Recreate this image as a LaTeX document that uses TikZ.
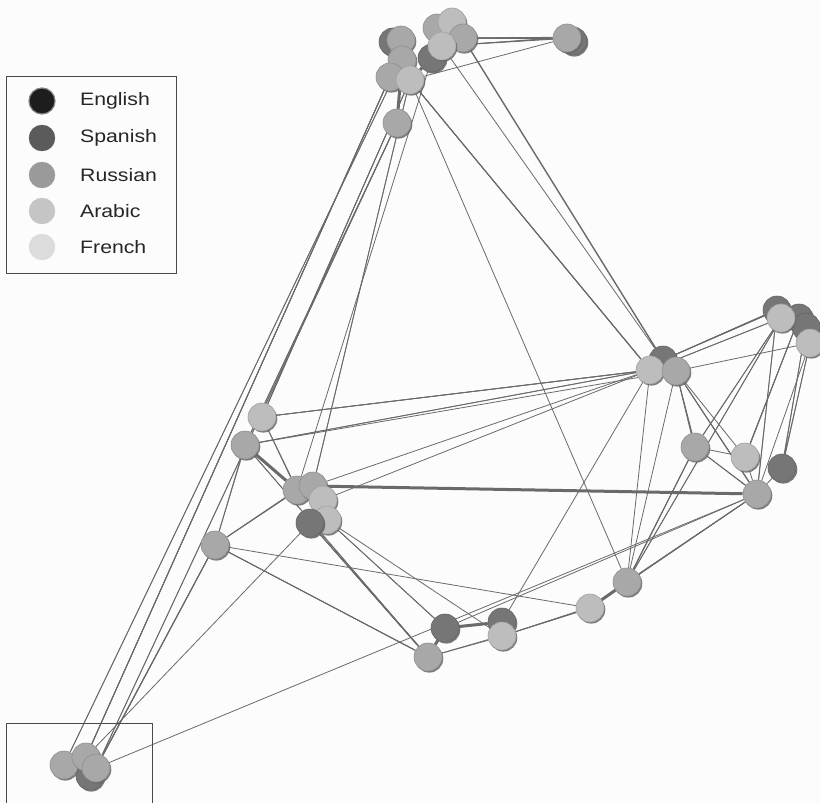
\documentclass[tikz,border=0pt]{standalone}
\usepackage{fontspec}
\setmainfont{Liberation Sans}
\usetikzlibrary{shadows}
\definecolor{cE}{HTML}{1D1D1D}
\definecolor{cS}{HTML}{5B5B5B}
\definecolor{cR}{HTML}{9A9A9A}
\definecolor{cA}{HTML}{C5C5C5}
\definecolor{cF}{HTML}{DCDCDC}
\definecolor{gL}{HTML}{BDBDBD}
\definecolor{gM}{HTML}{A8A8A8}
\definecolor{gD}{HTML}{767676}
\definecolor{edgec}{HTML}{6A6A6A}
\definecolor{framec}{HTML}{4A4A4A}
\pgfdeclarelayer{bg}
\pgfdeclarelayer{edgelayer}
\pgfsetlayers{bg,edgelayer,main}
\newcommand\bundle[4]{\foreach \o in {#3}{\draw[edge] ([#4=\o]#1) -- ([#4=\o]#2);}}
\newcommand\legtxt[1]{\scalebox{1.18}[1]{#1}}
\tikzset{
  gnode/.style={circle, inner sep=0, minimum size=28, fill=#1, draw=#1!85!black, line width=0.6,
    drop shadow={shadow xshift=1.3pt, shadow yshift=-1.6pt, fill=black!60, opacity=0.85}},
  lnode/.style={circle, inner sep=0, minimum size=26, fill=#1, draw=#1},
  ltext/.style={anchor=west, inner sep=0, font=\fontsize{18}{21}\selectfont, text=black!85},
  edge/.style={draw=edgec, line width=0.8},
  thickedge/.style={draw=edgec, line width=3},
  frame/.style={draw=framec, line width=1}
}
\begin{document}
\begin{tikzpicture}[x=1pt,y=-1pt]
\begin{pgfonlayer}{bg}
\fill[white!99!black] (0,0) rectangle (820,803);
\end{pgfonlayer}
\useasboundingbox (0,0) rectangle (820,803);

% ---------- graph nodes ----------
% top cluster
\node[gnode=gD] (t9) at (432,58) {};
\node[gnode=gD] (t0) at (393,42) {};
\node[gnode=gM] (t1) at (401,40) {};
\node[gnode=gM] (t2) at (437,28) {};
\node[gnode=gL] (t3) at (452,22) {};
\node[gnode=gM] (t4) at (463,38) {};
\node[gnode=gL] (t11) at (442,46) {};
\node[gnode=gM] (t12) at (402,60) {};
\node[gnode=gM] (t6) at (390,77) {};
\node[gnode=gL] (t7) at (410,80) {};
\node[gnode=gD] (trd) at (573,41) {};
\node[gnode=gM] (tr) at (567,38) {};
\node[gnode=gM] (t10) at (397,123) {};
% right top cluster
\node[gnode=gD] (r1) at (777,310) {};
\node[gnode=gD] (r2) at (799,318) {};
\node[gnode=gD] (r3) at (806,327) {};
\node[gnode=gL] (r4) at (781,318) {};
\node[gnode=gL] (r5) at (810,343) {};
% middle right
\node[gnode=gD] (m1) at (663,360) {};
\node[gnode=gL] (m2) at (650,370) {};
\node[gnode=gM] (m3) at (676,371) {};
\node[gnode=gM] (q1) at (695,447) {};
\node[gnode=gL] (q2) at (745,457) {};
\node[gnode=gD] (q3) at (782,468) {};
\node[gnode=gM] (q4) at (757,494) {};
% left
\node[gnode=gL] (l1) at (262,417) {};
\node[gnode=gM] (l2) at (245,445) {};
\node[gnode=gM] (c1) at (297,490) {};
\node[gnode=gM] (c2) at (313,486) {};
\node[gnode=gL] (c3) at (323,500) {};
\node[gnode=gL] (c6) at (327,520) {};
\node[gnode=gD] (c5) at (310,523) {};
\node[gnode=gM] (l3) at (215,545) {};
% bottom
\node[gnode=gD] (b1) at (445,628) {};
\node[gnode=gM] (b2) at (428,657) {};
\node[gnode=gD] (b3) at (502,622) {};
\node[gnode=gL] (b4) at (502,636) {};
\node[gnode=gL] (b5) at (590,608) {};
\node[gnode=gM] (b6) at (627,582) {};
% bottom-left cluster
\node[gnode=gD] (z4) at (90,776) {};
\node[gnode=gM] (z1) at (64,765) {};
\node[gnode=gM] (z2) at (86,757) {};
\node[gnode=gM] (z3) at (96,768) {};

% ---------- connectors ----------
\begin{pgfonlayer}{edgelayer}
% top cluster internal and to right satellite
\bundle{t4}{tr}{-7,-4,-1,2,5}{yshift}
\bundle{t11}{tr}{-3,2,6}{yshift}
\draw[edge] (t7) -- (tr);
\draw[thickedge] (t9) -- (t7);
\draw[thickedge] (t12) -- (t10);
% top to bottom-left
\bundle{t6}{z2}{-7,-4,-1,2}{xshift}
\bundle{t10}{z3}{-2,2}{xshift}
\bundle{t12}{z1}{-2,2}{xshift}
% top to left
\bundle{t7}{l1}{-4,-1,2}{xshift}
\bundle{t10}{l2}{-2,2}{xshift}
\bundle{t7}{c2}{-2,2}{xshift}
\draw[edge] (t9) -- (c1);
% top to middle right
\bundle{t7}{m2}{-6,-3,0,3}{yshift}
\draw[edge] (t11) -- (m1);
\draw[edge, line width=1.4] (t4) -- (m1);
\draw[edge] (t7) -- (b6);
% left to middle right
\bundle{l1}{m2}{-4,-1,2}{yshift}
\bundle{l2}{m2}{-2,2}{yshift}
\draw[edge] (l2) -- (m3);
\draw[edge] (c2) -- (m2);
\draw[edge] (c3) -- (r4);
\draw[thickedge] (c2) -- (q4);
% middle right cluster links
\bundle{m1}{r1}{-4,-1,2,5}{yshift}
\draw[edge] (m3) -- (r5);
\draw[edge] (m2) -- (r4);
\bundle{m3}{q1}{-3,0,3}{xshift}
\bundle{m3}{q4}{-3,0,3}{xshift}
\draw[edge] (m3) -- (q2);
\draw[edge] (m2) -- (b3);
\draw[edge] (m2) -- (b6);
\draw[edge] (m3) -- (b6);
% right top to below
\bundle{r4}{q1}{-2,2}{xshift}
\bundle{r2}{q2}{-3,0,3}{xshift}
\bundle{r3}{q3}{-2,2}{xshift}
\bundle{r5}{q3}{-2,2}{xshift}
\bundle{r1}{q4}{-2,2}{xshift}
\bundle{r4}{b6}{-2,2}{xshift}
\draw[edge] (r5) -- (q4);
% right middle
\draw[edge] (q1) -- (q2);
\bundle{q1}{q4}{-2,2}{xshift}
\draw[edge] (q2) -- (q4);
\draw[edge] (q3) -- (q4);
\bundle{q1}{b6}{-4,-1,2}{xshift}
\bundle{q4}{b6}{-3,0,3}{yshift}
\draw[edge] (q4) -- (b5);
\draw[edge] (q4) -- (b1);
% bottom chain
\draw[thickedge] (b2) -- (b1);
\draw[thickedge] (b1) -- (b3);
\bundle{b4}{b5}{-2,1,4}{yshift}
\draw[thickedge] (b5) -- (b6);
\bundle{b2}{b4}{-2,2}{yshift}
% left cluster to bottom
\bundle{c5}{b2}{-4,-1,2,5}{xshift}
\bundle{c6}{b1}{-2,2}{xshift}
\draw[edge] (c6) -- (b4);
\bundle{l2}{b2}{-2,2}{xshift}
% left internal
\bundle{l1}{c1}{-2,2}{xshift}
\draw[thickedge] (l2) -- (c1);
\bundle{l3}{c1}{-3,0,3}{yshift}
\bundle{l3}{l2}{-2,2}{xshift}
\bundle{l3}{b2}{-3,0,3}{yshift}
\draw[edge] (l3) -- (b5);
% to bottom-left
\bundle{l3}{z3}{-4,-1,2,5}{xshift}
\draw[edge] (c5) -- (z2);
\draw[edge] (z3) -- (q4);
\end{pgfonlayer}

% ---------- legend ----------
\draw[frame] (6,76) rectangle (176,273);
\node[lnode=cE, draw=gray, line width=1.2] (leg1) at (42,101) {};
\node[lnode=cS] (leg2) at (42,138) {};
\node[lnode=cR] (leg3) at (42,175) {};
\node[lnode=cA] (leg4) at (42,211) {};
\node[lnode=cF] (leg5) at (42,247) {};
\node[ltext] (lt1) at (80,101) {\legtxt{English}};
\node[ltext] (lt2) at (80,138) {\legtxt{Spanish}};
\node[ltext] (lt3) at (80,175) {\legtxt{Russian}};
\node[ltext] (lt4) at (80,211) {\legtxt{Arabic}};
\node[ltext] (lt5) at (80,247) {\legtxt{French}};

% ---------- inset frame ----------
\draw[frame] (6,803) -- (6,723) -- (152,723) -- (152,803);
\end{tikzpicture}
\end{document}
